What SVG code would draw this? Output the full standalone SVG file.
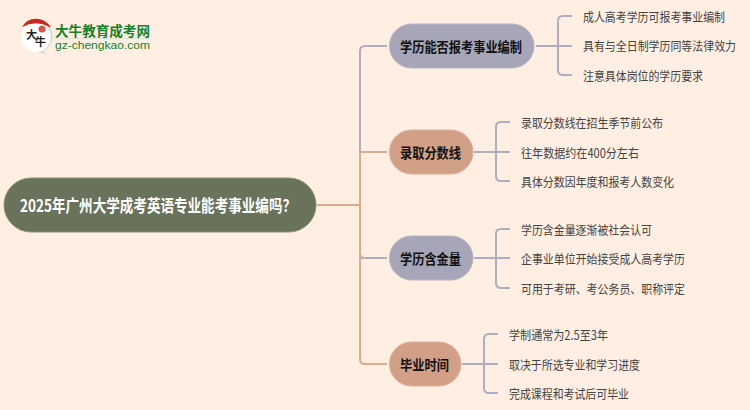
<svg xmlns="http://www.w3.org/2000/svg" width="750" height="410" viewBox="0 0 750 410">
<style>
text{font-family:"Liberation Sans","Noto Sans CJK SC",sans-serif;dominant-baseline:central}
.b{font-family:"Noto Sans CJK SC",sans-serif;font-weight:700;font-size:14px;fill:#111}
.t{font-family:"Noto Sans CJK SC",sans-serif;font-size:12.5px;fill:#444}
.l{fill:none;stroke:#aeaec0;stroke-width:2}
.s{fill:none;stroke:#dcab92;stroke-width:2}
.lav{fill:#a6a6b8;stroke:#b4b4c4}
.sal{fill:#d2a086;stroke:#dcb09a}
</style>
<rect width="750" height="410" fill="#ffeee2"/>
<g id="connectors">
<path class="l" d="M360 152V51Q360 46 365 46H387"/>
<path class="s" d="M317 205H360M360 152H387M360 152V359Q360 364 365 364H387"/>
<path class="l" d="M360 258H387"/>
<path class="s" d="M360 253Q360 258 365 258"/>
<path class="l" d="M536 46H572M558 46V21Q558 16 563 16H572M558 46V70Q558 75 563 75H572"/>
<path class="l" d="M474 152H510M496 152V127Q496 122 501 122H510M496 152V176Q496 181 501 181H510"/>
<path class="l" d="M474 258H510M496 258V234Q496 229 501 229H510M496 258V283Q496 288 501 288H510"/>
<path class="l" d="M462 364H498M484 364V339Q484 334 489 334H498M484 364V388Q484 393 489 393H498"/>
</g>
<g id="logo">
<path d="M24 38A15 16 0 0 1 51 27L24 30Z" fill="#c8281e"/>
<path d="M37 21A15.500 15.500 0 0 1 37 52L47 54L42 49.500A15.500 15.500 0 0 0 37 21Z" fill="#d5d5d5"/>
<circle cx="36" cy="37" r="15" fill="#fff"/>
<path d="M22 27A16 16 0 0 1 50 27A30 30 0 0 0 22 27Z" fill="#c8281e"/>
<circle cx="42" cy="29" r="3.500" fill="#d9534a"/>
<text x="26" y="34" font-size="11" fill="#222" font-weight="700" style="font-family:'Noto Sans CJK SC',sans-serif">大</text>
<text x="35" y="41" font-size="11" fill="#222" font-weight="700" style="font-family:'Noto Sans CJK SC',sans-serif">牛</text>
<text x="55" y="30" font-size="13.500" font-weight="700" fill="#16802a" textLength="95" lengthAdjust="spacingAndGlyphs" style="font-family:'Noto Sans CJK SC',sans-serif">大牛教育成考网</text>
<rect x="55" y="38" width="95" height="1" fill="#dfe3d6"/>
<text x="55" y="44.500" font-size="11.500" fill="#16802a" textLength="95" lengthAdjust="spacingAndGlyphs">gz-chengkao.com</text>
</g>
<g id="root">
<rect x="4" y="178" width="312" height="54" rx="27" fill="#69725a" stroke="#87907a"/>
<text x="20" y="204" class="b" style="font-size:17px;fill:#fff" textLength="276" lengthAdjust="spacingAndGlyphs">2025年广州大学成考英语专业能考事业编吗？</text>
</g>
<g id="n1">
<rect x="389.500" y="24" width="144.500" height="44" rx="22" class="lav"/>
<text x="400" y="46" class="b" textLength="122" lengthAdjust="spacingAndGlyphs">学历能否报考事业编制</text>
</g>
<g id="n2">
<rect x="389.500" y="130" width="83.500" height="44" rx="22" class="sal"/>
<text x="400" y="152" class="b" textLength="61" lengthAdjust="spacingAndGlyphs">录取分数线</text>
</g>
<g id="n3">
<rect x="389.500" y="236" width="83.500" height="44" rx="22" class="lav"/>
<text x="400" y="258" class="b" textLength="61" lengthAdjust="spacingAndGlyphs">学历含金量</text>
</g>
<g id="n4">
<rect x="389.500" y="342" width="71.500" height="44" rx="22" class="sal"/>
<text x="400" y="364" class="b" textLength="49" lengthAdjust="spacingAndGlyphs">毕业时间</text>
</g>
<g id="n1a"><text x="583" y="16" class="t" textLength="142" lengthAdjust="spacingAndGlyphs">成人高考学历可报考事业编制</text></g>
<g id="n1b"><text x="583" y="45" class="t" textLength="153" lengthAdjust="spacingAndGlyphs">具有与全日制学历同等法律效力</text></g>
<g id="n1c"><text x="583" y="75" class="t" textLength="120" lengthAdjust="spacingAndGlyphs">注意具体岗位的学历要求</text></g>
<g id="n2a"><text x="521" y="122" class="t" textLength="142" lengthAdjust="spacingAndGlyphs">录取分数线在招生季节前公布</text></g>
<g id="n2b"><text x="521" y="152" class="t" textLength="118" lengthAdjust="spacingAndGlyphs">往年数据约在400分左右</text></g>
<g id="n2c"><text x="521" y="181" class="t" textLength="153" lengthAdjust="spacingAndGlyphs">具体分数因年度和报考人数变化</text></g>
<g id="n3a"><text x="521" y="229" class="t" textLength="131" lengthAdjust="spacingAndGlyphs">学历含金量逐渐被社会认可</text></g>
<g id="n3b"><text x="521" y="258" class="t" textLength="164" lengthAdjust="spacingAndGlyphs">企事业单位开始接受成人高考学历</text></g>
<g id="n3c"><text x="521" y="288" class="t" textLength="164" lengthAdjust="spacingAndGlyphs">可用于考研、考公务员、职称评定</text></g>
<g id="n4a"><text x="509" y="334" class="t" textLength="99" lengthAdjust="spacingAndGlyphs">学制通常为2.5至3年</text></g>
<g id="n4b"><text x="509" y="364" class="t" textLength="131" lengthAdjust="spacingAndGlyphs">取决于所选专业和学习进度</text></g>
<g id="n4c"><text x="509" y="393" class="t" textLength="120" lengthAdjust="spacingAndGlyphs">完成课程和考试后可毕业</text></g>
</svg>
